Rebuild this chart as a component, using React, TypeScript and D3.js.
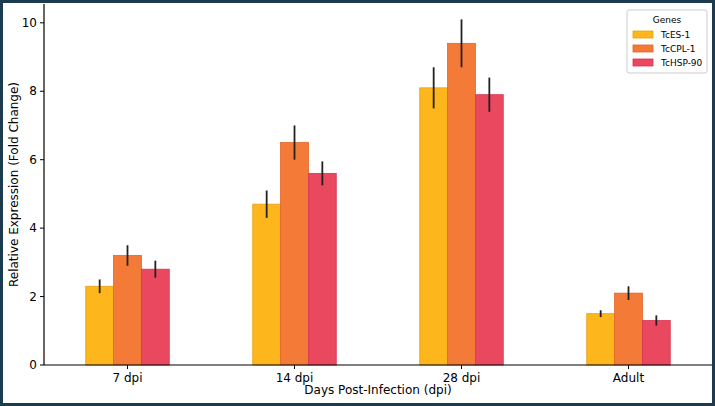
import React from "react";
import * as d3 from "d3";

const categories = ["7 dpi", "14 dpi", "28 dpi", "Adult"];
const seriesNames = ["TcES-1", "TcCPL-1", "TcHSP-90"];
const esValues = [2.3, 4.7, 8.1, 1.5];
const esErr = [0.2, 0.4, 0.6, 0.1];
const cplValues = [3.2, 6.5, 9.4, 2.1];
const cplErr = [0.3, 0.5, 0.7, 0.2];
const hspValues = [2.8, 5.6, 7.9, 1.3];
const hspErr = [0.25, 0.35, 0.5, 0.15];
const yTicks = [0, 2, 4, 6, 8, 10];
const colors = ["#FDB61B", "#F47A38", "#E9485F"];
const edges = ["#E8A010", "#E0652A", "#D63550"];

export default function App() {
  const W = 715, H = 406;
  const L = 44, R = 712, T = 4, B = 365;
  const x = d3.scaleLinear().domain([-0.5, 3.5]).range([L, R]);
  const y = d3.scaleLinear().domain([0, 10.55]).range([B, T]);
  const vals = [esValues, cplValues, hspValues];
  const errs = [esErr, cplErr, hspErr];
  const bw = 1 / 6;
  const font = "DejaVu Sans, sans-serif";
  return (
    <svg width={W} height={H} style={{ position: "absolute", left: 0, top: 0 }} fontFamily={font}>
      <rect x={0} y={0} width={W} height={H} fill="white" />
      {vals.map((vs, s) =>
        vs.map((v, i) => {
          const cx = i + (s - 1) * bw;
          const x0 = x(cx - bw / 2), x1 = x(cx + bw / 2);
          return (
            <g key={`${s}-${i}`}>
              <rect x={x0} y={y(v)} width={x1 - x0} height={B - y(v)} fill={colors[s]} stroke={edges[s]} strokeWidth={0.8} />
              <line x1={x(cx)} x2={x(cx)} y1={y(v - errs[s][i])} y2={y(v + errs[s][i])} stroke="#222" strokeWidth={1.8} />
            </g>
          );
        })
      )}
      <line x1={L} x2={L} y1={T} y2={B} stroke="black" strokeWidth={1.2} />
      <line x1={L} x2={R} y1={B} y2={B} stroke="black" strokeWidth={1.2} />
      {yTicks.map(t => (
        <g key={t}>
          <line x1={L - 4} x2={L} y1={y(t)} y2={y(t)} stroke="black" />
          <text x={L - 7} y={y(t)} dy="0.35em" textAnchor="end" fontSize={12}>{t}</text>
        </g>
      ))}
      {categories.map((c, i) => (
        <g key={c}>
          <line x1={x(i)} x2={x(i)} y1={B} y2={B + 4} stroke="black" />
          <text x={x(i)} y={B + 17} textAnchor="middle" fontSize={12}>{c}</text>
        </g>
      ))}
      <text x={(L + R) / 2} y={394} textAnchor="middle" fontSize={12}>Days Post-Infection (dpi)</text>
      <text transform={`translate(18,${(T + B) / 2}) rotate(-90)`} textAnchor="middle" fontSize={12}>Relative Expression (Fold Change)</text>
      <g transform="translate(627,10)">
        <rect x={0} y={0} width={80} height={63} fill="white" stroke="#ccc" rx={2} />
        <text x={40} y={13} textAnchor="middle" fontSize={9}>Genes</text>
        {seriesNames.map((n, s) => (
          <g key={n} transform={`translate(0,${19 + s * 14})`}>
            <rect x={6} y={2} width={20} height={7} fill={colors[s]} stroke={edges[s]} strokeWidth={0.8} />
            <text x={34} y={9} fontSize={9}>{n}</text>
          </g>
        ))}
      </g>
      <rect x={1.5} y={1.5} width={W - 3} height={H - 3} fill="none" stroke="#1d3b4f" strokeWidth={3} />
    </svg>
  );
}
